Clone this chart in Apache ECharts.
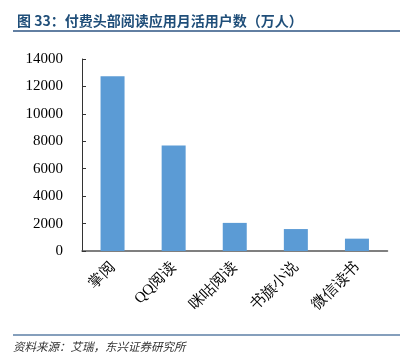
<!DOCTYPE html>
<html>
<head>
<meta charset="utf-8">
<script src="https://cdn.jsdelivr.net/npm/echarts@6/dist/echarts.min.js"></script>
<style>html,body{margin:0;padding:0;background:#fff;}#c{width:412px;height:356px;}</style>
</head>
<body>
<div id="c"></div>
<script>
var categories = ['掌阅', 'QQ阅读', '咪咕阅读', '书旗小说', '微信读书'];
var values = [12750, 7700, 2050, 1600, 900];
var yTicks = [0, 2000, 4000, 6000, 8000, 10000, 12000, 14000];

var chart = echarts.init(document.getElementById('c'));
chart.setOption({
  animation: false,
  title: {
    text: '图 33：付费头部阅读应用月活用户数（万人）',
    left: 12, top: 9,
    textStyle: { fontSize: 14, fontWeight: 'bold', color: '#1f4e79', fontFamily: 'Noto Sans CJK SC' }
  },
  graphic: [
    { type: 'line', shape: { x1: 13, y1: 31, x2: 400, y2: 31 }, style: { stroke: '#2e5583', lineWidth: 1.5 } },
    { type: 'line', shape: { x1: 13, y1: 335, x2: 400, y2: 335 }, style: { stroke: '#5d7fa6', lineWidth: 1.5 } },
    { type: 'text', left: 13, top: 341, style: { text: '资料来源：艾瑞，东兴证券研究所', fontSize: 11.5, fontStyle: 'italic', fill: '#333', fontFamily: 'Noto Sans CJK SC' } }
  ],
  grid: { left: 82, right: 24.5, top: 59, bottom: 105, containLabel: false },
  xAxis: {
    type: 'category',
    data: categories,
    axisLine: { lineStyle: { color: '#555', width: 1.5 } },
    axisTick: { show: false },
    axisLabel: { rotate: 45, margin: 14, fontSize: 15, color: '#000', fontFamily: 'Liberation Serif', interval: 0 }
  },
  yAxis: {
    type: 'value',
    min: 0, max: 14000, interval: 2000,
    splitLine: { show: false },
    axisLine: { show: true, lineStyle: { color: '#333', width: 1 } },
    axisTick: { show: true, inside: true, length: 4, lineStyle: { color: '#333' } },
    axisLabel: { fontSize: 15, color: '#000', fontFamily: 'Liberation Serif', margin: 19,
      formatter: function (v) { return yTicks.indexOf(v) >= 0 ? String(v) : ''; } }
  },
  series: [{
    type: 'bar',
    data: values,
    barWidth: 24,
    itemStyle: { color: '#5b9bd5' }
  }]
});
</script>
</body>
</html>
